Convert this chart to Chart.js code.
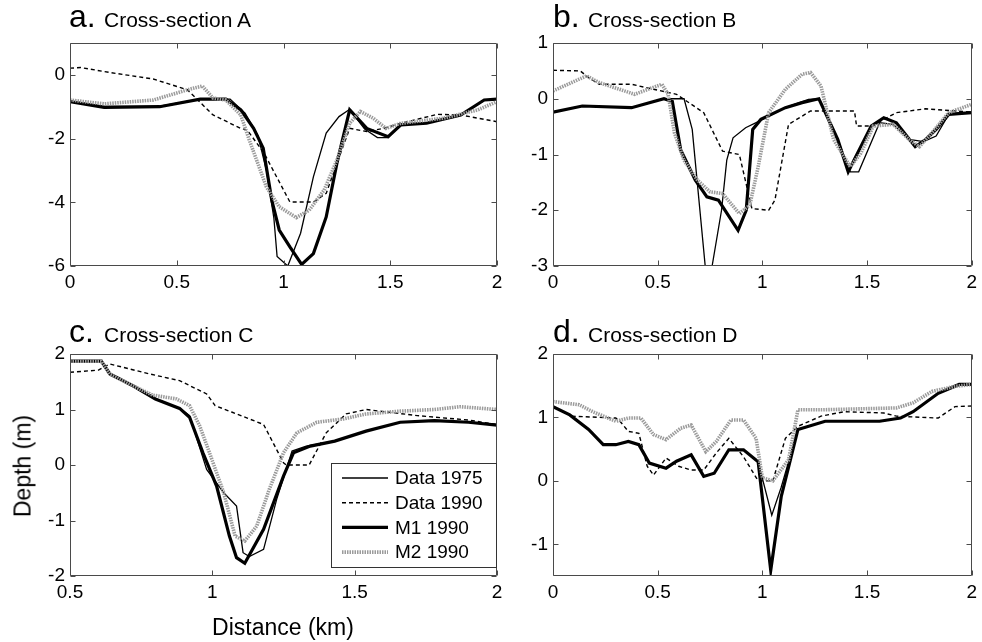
<!DOCTYPE html>
<html><head><meta charset="utf-8">
<script src="https://cdn.jsdelivr.net/npm/chart.js@4.4.1/dist/chart.umd.min.js"></script>
<style>
html,body{margin:0;padding:0;background:#fff;}
#wrap{position:relative;width:982px;height:642px;overflow:hidden;font-family:'Liberation Sans',Arial,Helvetica,sans-serif;color:#000;}
canvas{position:absolute;left:0;top:0;}
.ttl{position:absolute;white-space:nowrap;line-height:32px;}
.ttl .l{font-size:32px;display:inline-block;width:35px;}
.ttl .t{font-size:21px;}
.ax{position:absolute;font-size:23px;white-space:nowrap;transform:translate(-50%,-50%);}
</style></head>
<body>
<div id="wrap">
<canvas id="ca" width="982" height="642"></canvas>
<canvas id="cb" width="982" height="642"></canvas>
<canvas id="cc" width="982" height="642"></canvas>
<canvas id="cd" width="982" height="642"></canvas>
<div class="ttl" style="left:69px;top:0px"><span class="l">a.</span><span class="t">Cross-section A</span></div>
<div class="ttl" style="left:553px;top:0px"><span class="l">b.</span><span class="t">Cross-section B</span></div>
<div class="ttl" style="left:69px;top:315px"><span class="l">c.</span><span class="t">Cross-section C</span></div>
<div class="ttl" style="left:553px;top:315px"><span class="l">d.</span><span class="t">Cross-section D</span></div>
<div class="ax" style="left:23px;top:466px;transform:translate(-50%,-50%) rotate(-90deg);">Depth (m)</div>
<div class="ax" style="left:283px;top:627px;">Distance (km)</div>
</div>
<script>
// ---------- data ----------
const seriesNames = ['Data 1975', 'Data 1990', 'M1 1990', 'M2 1990'];

// Panel a
const aX1975 = [0, 0.16, 0.42, 0.61, 0.75, 0.82, 0.88, 0.92, 0.955, 0.97, 1.02, 1.08, 1.14, 1.2, 1.26, 1.31, 1.38, 1.44, 1.49, 1.55, 1.67, 1.83, 1.94, 2.0];
const aY1975 = [-0.82, -0.99, -0.98, -0.76, -0.76, -1.2, -1.9, -3.0, -4.5, -5.7, -6.0, -4.97, -3.2, -1.83, -1.31, -1.08, -1.7, -1.97, -1.97, -1.55, -1.5, -1.26, -0.8, -0.76];
const aX1990 = [0, 0.05, 0.19, 0.39, 0.55, 0.67, 0.8, 0.83, 0.91, 1.03, 1.14, 1.2, 1.25, 1.31, 1.39, 1.47, 1.55, 1.72, 1.83, 2.0];
const aY1990 = [0.21, 0.23, 0.07, -0.13, -0.47, -1.26, -1.68, -1.73, -2.47, -3.99, -3.99, -3.72, -2.78, -1.68, -1.78, -1.68, -1.52, -1.24, -1.26, -1.47];
const aXM1 = [0, 0.16, 0.42, 0.61, 0.73, 0.8, 0.86, 0.905, 0.945, 0.98, 1.03, 1.085, 1.14, 1.2, 1.25, 1.31, 1.39, 1.49, 1.55, 1.67, 1.83, 1.94, 2.0];
const aYM1 = [-0.84, -1.02, -1.0, -0.76, -0.76, -1.1, -1.68, -2.3, -3.93, -4.87, -5.4, -5.95, -5.61, -4.46, -2.78, -1.1, -1.68, -1.94, -1.57, -1.52, -1.26, -0.79, -0.76];
const aXM2 = [0, 0.16, 0.39, 0.56, 0.62, 0.67, 0.73, 0.8, 0.84, 0.92, 0.98, 1.06, 1.12, 1.19, 1.25, 1.31, 1.36, 1.42, 1.48, 1.55, 1.75, 1.91, 2.0];
const aYM2 = [-0.79, -0.91, -0.79, -0.45, -0.35, -0.73, -0.79, -1.26, -2.05, -3.52, -4.14, -4.48, -4.25, -3.62, -2.68, -1.52, -1.15, -1.36, -1.68, -1.52, -1.36, -1.1, -0.84];

// Panel b
const bX1975 = [0, 0.14, 0.375, 0.53, 0.6, 0.626, 0.665, 0.727, 0.76, 0.805, 0.83, 0.86, 0.92, 0.985, 1.11, 1.22, 1.27, 1.36, 1.42, 1.46, 1.56, 1.625, 1.70, 1.77, 1.83, 1.89, 2.0];
const bY1975 = [-0.24, -0.13, -0.16, 0.0, 0.0, 0.0, -0.55, -3.0, -3.0, -2.0, -1.1, -0.7, -0.52, -0.4, -0.16, -0.01, 0.0, -0.73, -1.31, -1.31, -0.43, -0.46, -0.73, -0.77, -0.67, -0.28, -0.25];
const bX1990 = [0, 0.13, 0.17, 0.22, 0.375, 0.48, 0.59, 0.72, 0.81, 0.89, 0.95, 1.03, 1.06, 1.125, 1.23, 1.44, 1.45, 1.52, 1.64, 1.78, 2.0];
const bY1990 = [0.51, 0.5, 0.38, 0.26, 0.26, 0.17, 0.08, -0.25, -0.94, -1.0, -1.97, -2.0, -1.82, -0.46, -0.22, -0.22, -0.49, -0.49, -0.25, -0.18, -0.24];
const bXM1 = [0, 0.14, 0.375, 0.53, 0.57, 0.61, 0.68, 0.735, 0.79, 0.884, 0.923, 0.954, 0.993, 1.11, 1.19, 1.27, 1.36, 1.41, 1.52, 1.58, 1.64, 1.73, 1.78, 1.83, 1.89, 2.0];
const bYM1 = [-0.24, -0.13, -0.16, 0.0, -0.05, -0.92, -1.46, -1.76, -1.82, -2.36, -2.0, -0.55, -0.37, -0.16, -0.07, 0.0, -0.73, -1.31, -0.49, -0.34, -0.43, -0.86, -0.73, -0.55, -0.28, -0.25];
const bXM2 = [0, 0.16, 0.22, 0.39, 0.52, 0.55, 0.58, 0.625, 0.69, 0.75, 0.81, 0.89, 0.94, 0.98, 1.03, 1.11, 1.19, 1.23, 1.28, 1.31, 1.34, 1.42, 1.47, 1.53, 1.625, 1.70, 1.75, 1.81, 1.89, 2.0];
const bYM2 = [0.14, 0.41, 0.29, 0.08, 0.26, 0.08, -0.61, -1.1, -1.46, -1.67, -1.7, -2.06, -1.91, -1.22, -0.25, 0.17, 0.44, 0.47, 0.23, -0.25, -0.73, -1.22, -0.98, -0.49, -0.46, -0.73, -0.86, -0.61, -0.25, -0.1];

// Panel c
const cX1975 = [0.5, 0.61, 0.64, 0.72, 0.8, 0.885, 0.92, 0.98, 1.04, 1.085, 1.108, 1.13, 1.18, 1.226, 1.28, 1.33, 1.43, 1.54, 1.66, 1.78, 1.9, 2.0];
const cY1975 = [1.87, 1.87, 1.64, 1.43, 1.19, 1.02, 0.89, -0.08, -0.5, -0.74, -1.58, -1.65, -1.52, -0.62, 0.25, 0.34, 0.43, 0.61, 0.77, 0.8, 0.77, 0.72];
const cX1990 = [0.5, 0.6, 0.64, 0.78, 0.885, 0.98, 1.01, 1.07, 1.18, 1.25, 1.26, 1.34, 1.4, 1.47, 1.54, 1.72, 1.9, 2.0];
const cY1990 = [1.67, 1.71, 1.82, 1.64, 1.52, 1.28, 1.07, 0.95, 0.73, 0.04, 0.0, 0.0, 0.58, 0.92, 1.0, 0.89, 0.81, 0.73];
const cXM1 = [0.5, 0.61, 0.64, 0.72, 0.8, 0.885, 0.92, 0.967, 1.015, 1.06, 1.085, 1.114, 1.18, 1.25, 1.285, 1.344, 1.43, 1.54, 1.66, 1.78, 1.9, 2.0];
const cYM1 = [1.87, 1.87, 1.64, 1.43, 1.19, 1.02, 0.86, 0.22, -0.38, -1.28, -1.67, -1.77, -1.16, -0.2, 0.22, 0.34, 0.43, 0.61, 0.77, 0.8, 0.77, 0.72];
const cXM2 = [0.5, 0.61, 0.64, 0.72, 0.79, 0.874, 0.92, 0.956, 0.99, 1.04, 1.08, 1.114, 1.156, 1.2, 1.25, 1.297, 1.367, 1.46, 1.54, 1.66, 1.78, 1.87, 2.0];
const cYM2 = [1.87, 1.87, 1.64, 1.43, 1.26, 1.19, 1.07, 0.7, 0.22, -0.5, -1.28, -1.37, -1.1, -0.44, 0.22, 0.58, 0.77, 0.83, 0.92, 0.97, 1.0, 1.05, 1.0];

// Panel d
const dX1975 = [0, 0.08, 0.17, 0.24, 0.30, 0.36, 0.41, 0.46, 0.54, 0.59, 0.66, 0.72, 0.77, 0.84, 0.91, 0.98, 1.045, 1.09, 1.17, 1.30, 1.56, 1.66, 1.72, 1.84, 1.94, 2.0];
const dY1975 = [1.17, 1.04, 0.81, 0.57, 0.57, 0.62, 0.57, 0.28, 0.2, 0.31, 0.41, 0.07, 0.12, 0.49, 0.49, 0.3, -0.54, -0.1, 0.81, 0.94, 0.94, 0.99, 1.09, 1.38, 1.52, 1.52];
const dX1990 = [0, 0.09, 0.30, 0.32, 0.36, 0.41, 0.45, 0.48, 0.54, 0.60, 0.66, 0.72, 0.78, 0.84, 0.91, 0.98, 1.0, 1.05, 1.11, 1.17, 1.28, 1.39, 1.58, 1.64, 1.84, 1.92, 2.0];
const dY1990 = [1.17, 1.02, 0.99, 0.94, 0.78, 0.75, 0.23, 0.09, 0.36, 0.23, 0.17, 0.17, 0.44, 0.67, 0.38, 0.0, 0.0, 0.0, 0.67, 0.86, 1.02, 1.09, 1.07, 1.02, 0.99, 1.17, 1.18];
const dXM1 = [0, 0.08, 0.17, 0.24, 0.30, 0.36, 0.41, 0.46, 0.54, 0.59, 0.66, 0.72, 0.77, 0.84, 0.91, 0.98, 1.04, 1.09, 1.17, 1.30, 1.56, 1.66, 1.72, 1.84, 1.94, 2.0];
const dYM1 = [1.17, 1.04, 0.81, 0.57, 0.57, 0.62, 0.57, 0.28, 0.2, 0.31, 0.41, 0.07, 0.12, 0.49, 0.49, 0.3, -1.41, -0.25, 0.81, 0.94, 0.94, 0.99, 1.09, 1.38, 1.52, 1.52];
const dXM2 = [0, 0.125, 0.19, 0.30, 0.36, 0.42, 0.48, 0.54, 0.61, 0.66, 0.73, 0.78, 0.85, 0.91, 0.97, 1.0, 1.05, 1.125, 1.17, 1.28, 1.64, 1.72, 1.81, 1.92, 2.0];
const dYM2 = [1.25, 1.2, 1.09, 0.94, 0.99, 0.99, 0.73, 0.65, 0.83, 0.88, 0.46, 0.62, 0.96, 0.96, 0.67, 0.05, 0.0, 0.33, 1.12, 1.12, 1.15, 1.23, 1.41, 1.49, 1.52];

// Tick values
const xTicks02 = [0, 0.5, 1, 1.5, 2];
const xTicksC = [0.5, 1, 1.5, 2];
const yTicksA = [-6, -4, -2, 0];
const yTicksB = [-3, -2, -1, 0, 1];
const yTicksC = [-2, -1, 0, 1, 2];
const yTicksD = [-1, 0, 1, 2];

// ---------- styles ----------
const FONT = "'Liberation Sans', Arial, Helvetica, sans-serif";
const lineStyles = [
  { color: '#000', width: 1.3, dash: [], order: 3 },
  { color: '#000', width: 1.4, dash: [4, 3], order: 2 },
  { color: '#000', width: 3.2, dash: [], order: 1 },
  { color: '#9b9b9b', width: 3.6, dash: [1.5, 1], order: 0 }
];

const boxPlugin = {
  id: 'boxTicks',
  afterDatasetsDraw(chart) {
    const { ctx, chartArea: a, scales } = chart;
    const x = scales.x, y = scales.y;
    const L = Math.round(a.left) + 0.5, R = Math.round(a.right) - 0.5;
    const T = Math.round(a.top) + 0.5, B = Math.round(a.bottom) - 0.5;
    ctx.save();
    ctx.strokeStyle = '#4a4a4a';
    ctx.lineWidth = 1;
    ctx.setLineDash([]);
    ctx.beginPath();
    ctx.rect(L, T, R - L, B - T);
    const tl = 5;
    x.ticks.forEach(t => {
      const px = Math.round(x.getPixelForValue(t.value)) + 0.5;
      ctx.moveTo(px, B); ctx.lineTo(px, B - tl);
      ctx.moveTo(px, T); ctx.lineTo(px, T + tl);
    });
    y.ticks.forEach(t => {
      const py = Math.round(y.getPixelForValue(t.value)) + 0.5;
      ctx.moveTo(L, py); ctx.lineTo(L + tl, py);
      ctx.moveTo(R, py); ctx.lineTo(R - tl, py);
    });
    ctx.stroke();
    ctx.restore();
  }
};

const legendPlugin = {
  id: 'boxLegend',
  afterDraw(chart) {
    const { ctx, chartArea: a } = chart;
    const w = 166, h = 105;
    const x0 = Math.round(a.right) - w, y0 = Math.round(a.bottom) - 8 - h;
    ctx.save();
    ctx.fillStyle = '#fff';
    ctx.fillRect(x0, y0, w, h);
    ctx.strokeStyle = '#333';
    ctx.lineWidth = 1;
    ctx.setLineDash([]);
    ctx.strokeRect(x0 + 0.5, y0 + 0.5, w - 1, h - 1);
    chart.data.datasets.forEach((ds, i) => {
      const yy = y0 + 15 + i * 24.7;
      ctx.beginPath();
      ctx.setLineDash(ds.borderDash || []);
      ctx.strokeStyle = ds.borderColor;
      ctx.lineWidth = ds.borderWidth;
      ctx.moveTo(x0 + 11, yy); ctx.lineTo(x0 + 57, yy);
      ctx.stroke();
      ctx.setLineDash([]);
      ctx.fillStyle = '#000';
      ctx.font = '19px ' + FONT;
      ctx.textBaseline = 'middle';
      ctx.fillText(ds.label, x0 + 64, yy + 1);
    });
    ctx.restore();
  }
};

function makeChart(id, area, xMin, xMax, yMin, yMax, xTicks, yTicks, series, withLegend) {
  const YW = 50, XH = 30;
  const datasets = series.map((s, i) => ({
    label: seriesNames[i],
    data: s[0].map((xv, j) => ({ x: xv, y: s[1][j] })),
    showLine: true,
    pointRadius: 0,
    pointHoverRadius: 0,
    tension: 0,
    fill: false,
    borderColor: lineStyles[i].color,
    borderWidth: lineStyles[i].width,
    borderDash: lineStyles[i].dash,
    order: lineStyles[i].order
  }));
  const tickFont = { family: FONT, size: 19 };
  return new Chart(document.getElementById(id), {
    type: 'scatter',
    data: { datasets },
    options: {
      responsive: false,
      animation: false,
      devicePixelRatio: 1,
      events: [],
      layout: {
        autoPadding: false,
        padding: { left: area.l - YW, top: area.t, right: 982 - area.r, bottom: 642 - area.b - XH }
      },
      plugins: { legend: { display: false }, tooltip: { enabled: false }, title: { display: false } },
      scales: {
        x: {
          type: 'linear', min: xMin, max: xMax,
          afterFit(s) { s.height = XH; },
          afterBuildTicks(s) { s.ticks = xTicks.map(v => ({ value: v })); },
          grid: { display: false, drawTicks: false },
          border: { display: false },
          ticks: { padding: 5, color: '#000', font: tickFont, maxRotation: 0, autoSkip: false, callback: v => String(v) }
        },
        y: {
          type: 'linear', min: yMin, max: yMax,
          afterFit(s) { s.width = YW; },
          afterBuildTicks(s) { s.ticks = yTicks.map(v => ({ value: v })); },
          grid: { display: false, drawTicks: false },
          border: { display: false },
          ticks: { padding: 5, color: '#000', font: tickFont, autoSkip: false, callback: v => String(v) }
        }
      }
    },
    plugins: withLegend ? [boxPlugin, legendPlugin] : [boxPlugin]
  });
}

makeChart('ca', { l: 70, t: 43, r: 497, b: 266 }, 0, 2, -6, 1, xTicks02, yTicksA,
  [[aX1975, aY1975], [aX1990, aY1990], [aXM1, aYM1], [aXM2, aYM2]], false);
makeChart('cb', { l: 553, t: 43, r: 980, b: 266 }, 0, 2, -3, 1, xTicks02, yTicksB,
  [[bX1975, bY1975], [bX1990, bY1990], [bXM1, bYM1], [bXM2, bYM2]], false);
makeChart('cc', { l: 70, t: 354, r: 497, b: 576 }, 0.5, 2, -2, 2, xTicksC, yTicksC,
  [[cX1975, cY1975], [cX1990, cY1990], [cXM1, cYM1], [cXM2, cYM2]], true);
makeChart('cd', { l: 553, t: 354, r: 980, b: 576 }, 0, 2, -1.5, 2, xTicks02, yTicksD,
  [[dX1975, dY1975], [dX1990, dY1990], [dXM1, dYM1], [dXM2, dYM2]], false);
</script>
</body></html>
